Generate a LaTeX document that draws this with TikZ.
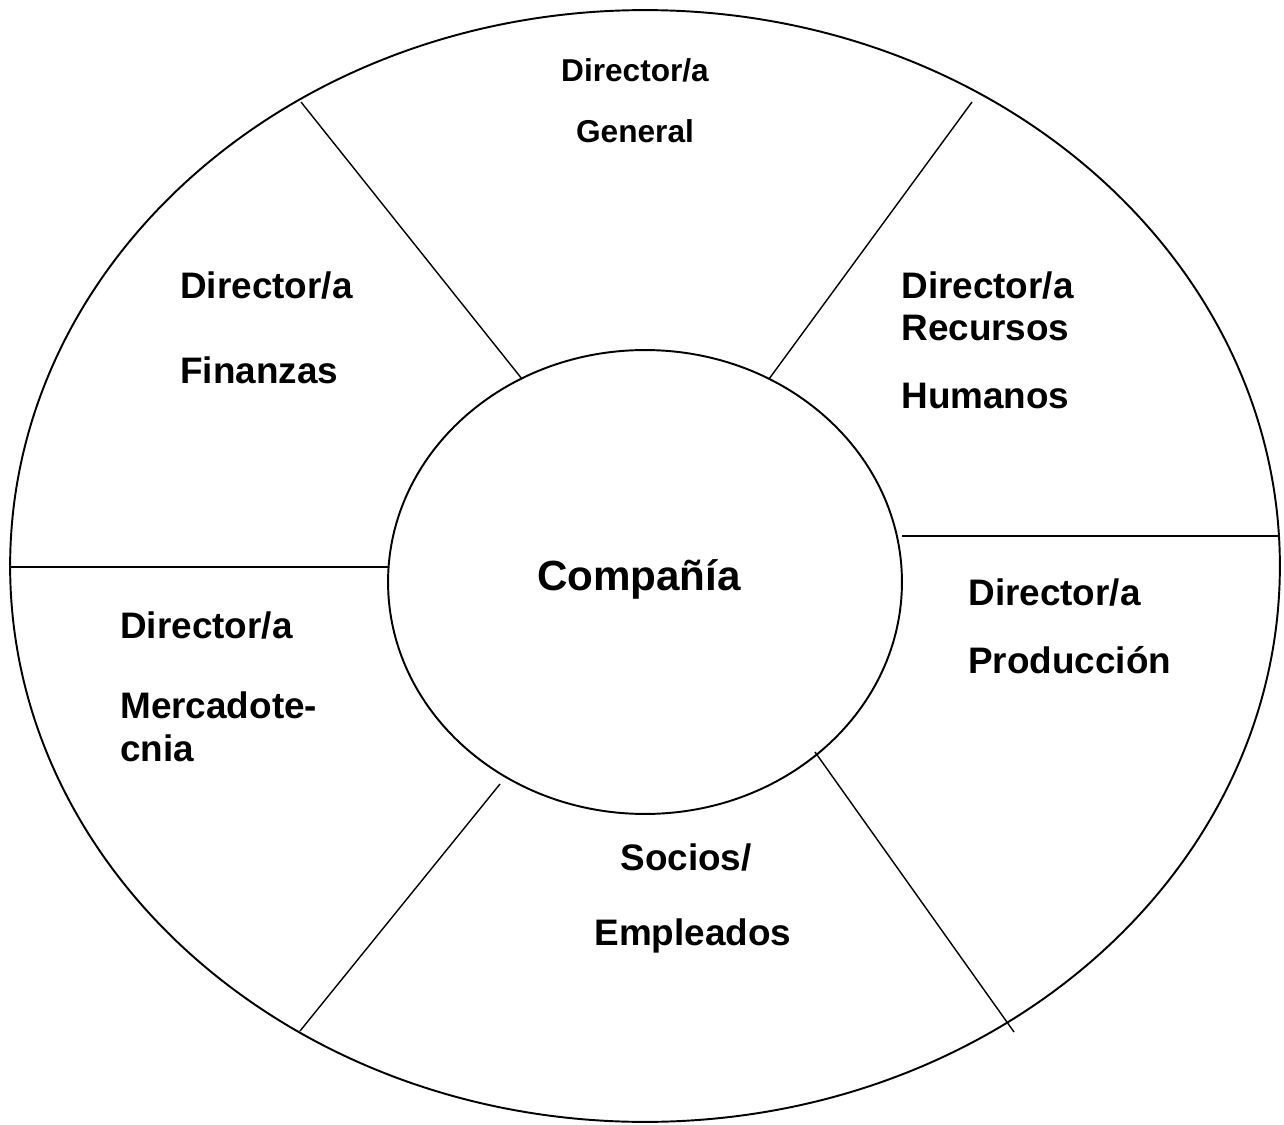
\documentclass[tikz,border=0pt]{standalone}
\usepackage{fontspec}
\setmainfont{Liberation Sans}
\usetikzlibrary{positioning}

\tikzset{
  rim/.style={line width=1.1pt},
  cut/.style={line width=0.8pt},
  lbl/.style={font=\bfseries\fontsize{21}{25}\selectfont, anchor=base west, inner sep=0pt},
  toplbl/.style={font=\bfseries\fontsize{18}{22}\selectfont, anchor=base, inner sep=0pt},
  midlbl/.style={font=\bfseries\fontsize{21}{25}\selectfont, anchor=base, inner sep=0pt}
}

\begin{document}
\begin{tikzpicture}[x=0.02cm, y=-0.02cm]
\useasboundingbox (0,0) rectangle (1284,1125);
% outer ring and the company in the middle
\draw[rim] (645,566) ellipse [x radius=12.7cm, y radius=11.12cm];
\draw[rim] (645,582) ellipse [x radius=5.14cm, y radius=4.64cm];
\node[font=\bfseries\fontsize{24}{28}\selectfont, anchor=base, inner sep=0pt] (comp) at (639,590) {Compañía};
% spokes between the two rings
\coordinate (tlo) at (301,102);  \coordinate (tli) at (522,379);
\coordinate (tro) at (972,102);  \coordinate (tri) at (769,379);
\coordinate (lo) at (10,567);    \coordinate (li) at (388,567);
\coordinate (ro) at (1280,536);  \coordinate (ri) at (902,536);
\coordinate (blo) at (300,1031); \coordinate (bli) at (500,784);
\coordinate (bro) at (1014,1032);\coordinate (bri) at (815,752);
\foreach \a/\b in {tlo/tli, tro/tri, lo/li, ro/ri, blo/bli, bro/bri}
  \draw[cut] (\a) -- (\b);
% the six sectors
\node[toplbl] (gen1) at (635,82) {Director/a};
\node[toplbl] (gen2) at (635,143) {General};
\node[lbl] (fin1) at (180,298) {Director/a};
\node[lbl] (fin2) at (180,383) {Finanzas};
\node[lbl] (rh1) at (901,298) {Director/a};
\node[lbl] (rh2) at (901,340) {Recursos};
\node[lbl] (rh3) at (901,408) {Humanos};
\node[lbl] (prod1) at (968,605) {Director/a};
\node[lbl] (prod2) at (968,673) {Producción};
\node[lbl] (mer1) at (120,638) {Director/a};
\node[lbl] (mer2) at (120,718) {Mercadote-};
\node[lbl] (mer3) at (120,761) {cnia};
\node[midlbl] (soc1) at (686,870) {Socios/};
\node[midlbl] (soc2) at (693,945) {Empleados};
\end{tikzpicture}
\end{document}
